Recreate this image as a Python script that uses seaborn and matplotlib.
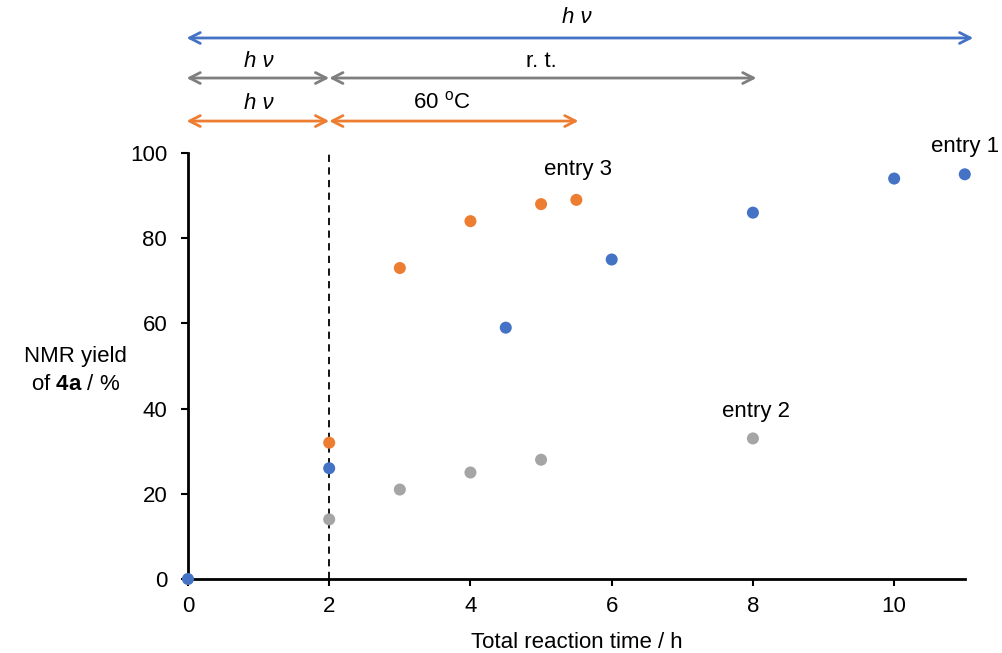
import matplotlib
matplotlib.use("Agg")
import matplotlib.pyplot as plt
import seaborn as sns
import pandas as pd

# values
entry1_time = [0, 2, 4.5, 6, 8, 10, 11]
entry1_yield = [0, 26, 59, 75, 86, 94, 95]
entry2_time = [2, 3, 4, 5, 8]
entry2_yield = [14, 21, 25, 28, 33]
entry3_time = [2, 3, 4, 5, 5.5]
entry3_yield = [32, 73, 84, 88, 89]

colors = {"entry 1": "#4472C4", "entry 2": "#A5A5A5", "entry 3": "#ED7D31"}
arrow_gray = "#7F7F7F"
fs = 16

sns.set_style("white")
plt.rcParams['font.family'] = ['Liberation Sans', 'DejaVu Sans']
plt.rcParams['text.color'] = 'black'
plt.rcParams['axes.labelcolor'] = 'black'
plt.rcParams['xtick.color'] = 'black'
plt.rcParams['ytick.color'] = 'black'
plt.rcParams['mathtext.fontset'] = 'custom'
plt.rcParams['mathtext.rm'] = 'Liberation Sans'
plt.rcParams['mathtext.it'] = 'Liberation Sans:italic'
plt.rcParams['mathtext.bf'] = 'Liberation Sans:bold'

df = pd.concat([
    pd.DataFrame({"time": entry2_time, "yield": entry2_yield, "entry": "entry 2"}),
    pd.DataFrame({"time": entry3_time, "yield": entry3_yield, "entry": "entry 3"}),
    pd.DataFrame({"time": entry1_time, "yield": entry1_yield, "entry": "entry 1"}),
])

fig = plt.figure(figsize=(10.03, 6.53), dpi=100)
ax = fig.add_axes([0.1874, 0.1133, 0.7745, 0.6524])

# dashed line marking the switch after 2 h
ax.plot([2, 2], [0, 100], ls=(0, (4, 3)), color="black", lw=1.3, zorder=1)

sns.scatterplot(data=df, x="time", y="yield", hue="entry", palette=colors,
                s=75, edgecolor="none", legend=False, ax=ax, zorder=3, clip_on=False)

ax.set_xlim(0, 11)
ax.set_ylim(0, 100)
ax.set_xticks([0, 2, 4, 6, 8, 10])
ax.set_yticks([0, 20, 40, 60, 80, 100])
ax.tick_params(axis="x", labelsize=fs, length=5, width=1.5, direction="out",
               bottom=True, pad=7)
ax.tick_params(axis="y", labelsize=fs, length=5, width=1.5, direction="out",
               left=True, pad=10)
sns.despine(ax=ax)
for sp in ["left", "bottom"]:
    ax.spines[sp].set_linewidth(2)
    ax.spines[sp].set_color("black")

ax.set_xlabel("Total reaction time / h", fontsize=fs, labelpad=11)
ax.set_ylabel("NMR yield\nof $\\mathbf{4a}$ / %", fontsize=fs, rotation=0,
              ha="center", va="center", labelpad=0, linespacing=1.45)
ax.yaxis.set_label_coords(-0.145, 0.49)

# entry labels
ax.text(11.0, 101.6, "entry 1", fontsize=fs, ha="center", va="center")
ax.text(5.53, 96.2, "entry 3", fontsize=fs, ha="center", va="center")
ax.text(8.04, 39.4, "entry 2", fontsize=fs, ha="center", va="center")


def harrow(x0, x1, y, color):
    ax.annotate("", xy=(x1, y), xytext=(x0, y), xycoords="data",
                annotation_clip=False,
                arrowprops=dict(arrowstyle="<->,head_length=0.55,head_width=0.28",
                                color=color, lw=2, mutation_scale=14,
                                shrinkA=0, shrinkB=0))


# conditions arrows above the plot
harrow(-0.02, 11.12, 127, colors["entry 1"])
ax.text(5.5, 131.8, "h ν", style="italic", fontsize=fs, ha="center", va="center", clip_on=False)

harrow(-0.02, 2.0, 117.6, arrow_gray)
harrow(2.0, 8.05, 117.6, arrow_gray)
ax.text(1.0, 121.4, "h ν", style="italic", fontsize=fs, ha="center", va="center", clip_on=False)
ax.text(5.0, 121.4, "r. t.", fontsize=fs, ha="center", va="center", clip_on=False)

harrow(-0.02, 2.0, 107.5, colors["entry 3"])
harrow(2.0, 5.53, 107.5, colors["entry 3"])
ax.text(1.0, 111.6, "h ν", style="italic", fontsize=fs, ha="center", va="center", clip_on=False)
ax.text(3.6, 111.8, "60 $^{\\mathrm{o}}$C", fontsize=fs, ha="center", va="center", clip_on=False)

fig.savefig("out.png", dpi=100)
